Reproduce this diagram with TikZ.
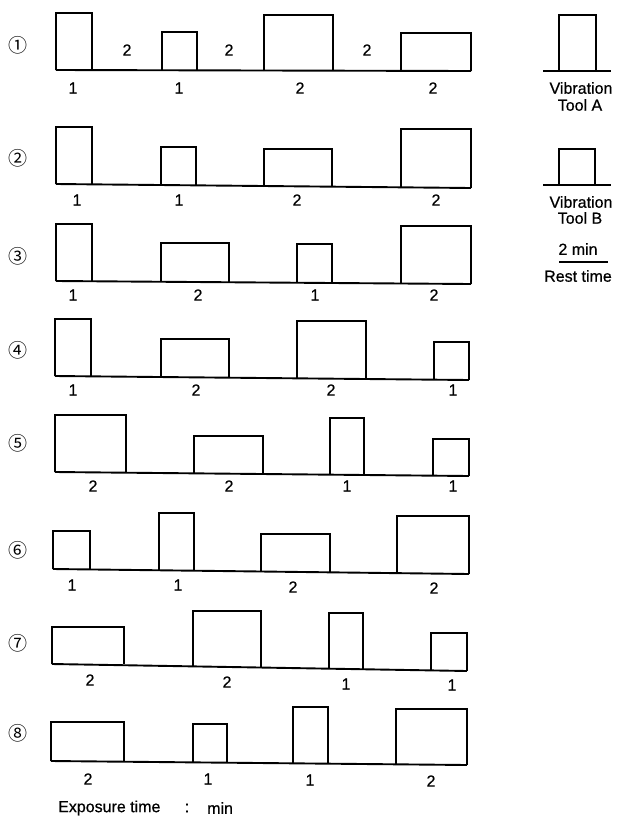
\documentclass[tikz,border=0pt]{standalone}
\usepackage{fontspec}
\setmainfont{Liberation Sans}[FakeBold=0.6]
\newfontfamily\lblfont[FakeBold=0.6]{Liberation Sans}
\newfontfamily\cjkfont{Noto Sans CJK JP}
\newcommand\expbox[4]{\draw[bar] (#1,#4) -- (#1,#3) -- (#2,#3) -- (#2,#4);}
\tikzset{
  bar/.style={line width=1.9pt, line join=miter},
  baseln/.style={line width=1.9pt},
  num/.style={font=\lblfont\fontsize{16}{16}\selectfont, inner sep=0pt},
  circnum/.style={font=\cjkfont\fontsize{19}{19}\selectfont, inner sep=0pt},
}
\begin{document}
\begin{tikzpicture}[x=1pt,y=-1pt]
\useasboundingbox (0,0) rectangle (617,820);
% ---------- Row 1
\node[circnum] (c1) at (18,45) {①};
\draw[baseln] (56,70) -- (471,71);
\expbox{56}{92}{13}{70}
\expbox{162}{197}{32}{70}
\expbox{264}{333}{15}{71}
\expbox{401}{471}{33}{71}
\node[num] (r1a) at (127,50) {2};
\node[num] (r1b) at (229,50) {2};
\node[num] (r1c) at (367,50) {2};
\node[num] (l1a) at (73,88) {1};
\node[num] (l1b) at (179,88) {1};
\node[num] (l1c) at (300,88) {2};
\node[num] (l1d) at (433,88) {2};
% ---------- Row 2
\node[circnum] (c2) at (18,158) {②};
\draw[baseln] (56,184) -- (471,188);
\expbox{56}{92}{127}{184}
\expbox{161}{196}{147}{185}
\expbox{264}{332}{149}{187}
\expbox{401}{471}{129}{188}
\node[num] (l2a) at (77,200) {1};
\node[num] (l2b) at (179,200) {1};
\node[num] (l2c) at (297,200) {2};
\node[num] (l2d) at (436,200) {2};
% ---------- Row 3
\node[circnum] (c3) at (18,256) {③};
\draw[baseln] (56,281) -- (471,284);
\expbox{56}{92}{224}{281}
\expbox{161}{229}{243}{282}
\expbox{297}{332}{244}{283}
\expbox{401}{471}{226}{284}
\node[num] (l3a) at (73,295) {1};
\node[num] (l3b) at (198,295) {2};
\node[num] (l3c) at (315,295) {1};
\node[num] (l3d) at (434,295) {2};
% ---------- Row 4
\node[circnum] (c4) at (18,350) {④};
\draw[baseln] (55,376) -- (469,380);
\expbox{55}{91}{319}{376}
\expbox{161}{229}{339}{377}
\expbox{297}{366}{321}{379}
\expbox{434}{469}{342}{380}
\node[num] (l4a) at (73,390) {1};
\node[num] (l4b) at (196,390) {2};
\node[num] (l4c) at (331,390) {2};
\node[num] (l4d) at (453,390) {1};
% ---------- Row 5
\node[circnum] (c5) at (18,443) {⑤};
\draw[baseln] (55,472) -- (469,476);
\expbox{55}{126}{415}{472}
\expbox{194}{263}{436}{473}
\expbox{330}{364}{418}{475}
\expbox{433}{469}{439}{476}
\node[num] (l5a) at (93,486) {2};
\node[num] (l5b) at (229,486) {2};
\node[num] (l5c) at (347,486) {1};
\node[num] (l5d) at (453,486) {1};
% ---------- Row 6
\node[circnum] (c6) at (18,550) {⑥};
\draw[baseln] (53,569) -- (469,574);
\expbox{53}{90}{531}{569}
\expbox{159}{194}{513}{570}
\expbox{261}{330}{534}{572}
\expbox{397}{469}{516}{574}
\node[num] (l6a) at (72,585) {1};
\node[num] (l6b) at (178,585) {1};
\node[num] (l6c) at (293,587) {2};
\node[num] (l6d) at (434,588) {2};
% ---------- Row 7
\node[circnum] (c7) at (18,643) {⑦};
\draw[baseln] (52,664) -- (467,671);
\expbox{52}{124}{627}{664}
\expbox{193}{261}{611}{667}
\expbox{329}{363}{613}{669}
\expbox{431}{467}{633}{671}
\node[num] (l7a) at (90,680) {2};
\node[num] (l7b) at (227,682) {2};
\node[num] (l7c) at (346,684) {1};
\node[num] (l7d) at (452,685) {1};
% ---------- Row 8
\node[circnum] (c8) at (18,733) {⑧};
\draw[baseln] (51,761) -- (467,765);
\expbox{51}{124}{722}{761}
\expbox{193}{227}{724}{762}
\expbox{293}{328}{707}{763}
\expbox{396}{467}{709}{765}
\node[num] (l8a) at (88,779) {2};
\node[num] (l8b) at (208,779) {1};
\node[num] (l8c) at (310,780) {1};
\node[num] (l8d) at (431,781) {2};
% ---------- Footer
\node[num, anchor=west] (expo) at (58,808) {Exposure time};
\node[num] (colon) at (187,808) {:};
\node[num, anchor=west] (minu) at (207,808) {min};
% ---------- Legend
\draw[baseln] (543,71) -- (611,71);
\expbox{559}{596}{15}{71}
\node[num] (va) at (581,88) {Vibration};
\node[num] (ta) at (580,105) {Tool A};
\draw[baseln] (543,185) -- (611,185);
\expbox{559}{595}{149}{185}
\node[num] (vb) at (581,202) {Vibration};
\node[num] (tb) at (580,218) {Tool B};
\node[num] (rm) at (578,249) {2 min};
\draw[baseln] (559,262) -- (608,262);
\node[num] (rt) at (578,276) {Rest time};
\end{tikzpicture}
\end{document}
